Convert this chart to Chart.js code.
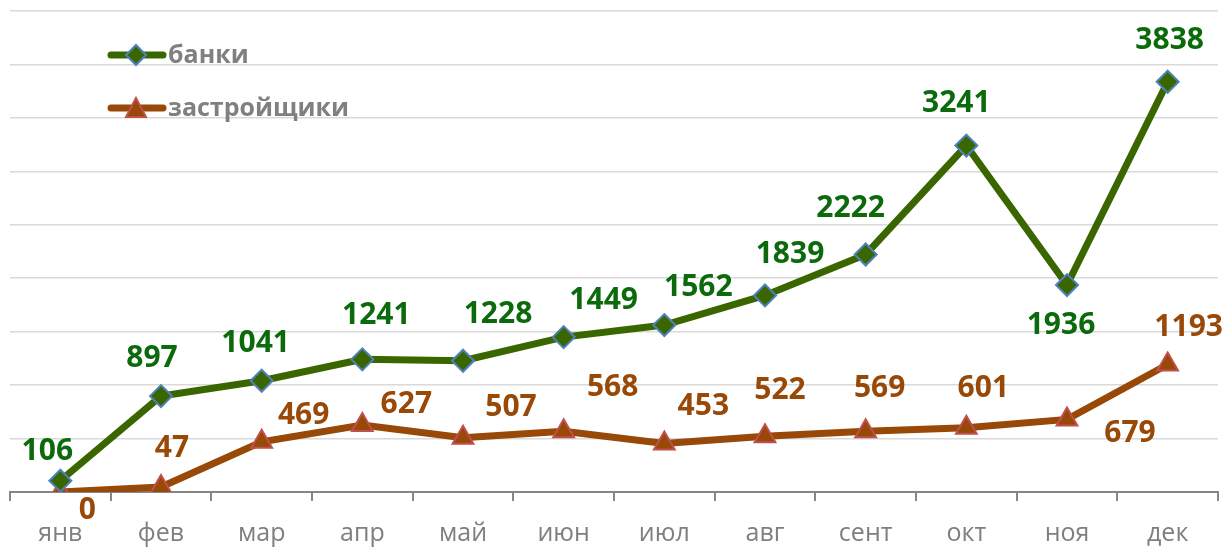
<!DOCTYPE html>
<html>
<head>
<meta charset="utf-8">
<script src="https://cdn.jsdelivr.net/npm/chart.js@4"></script>
<style>
  html, body { margin: 0; padding: 0; background: #fff; }
  #wrap { width: 1226px; height: 547px; }
</style>
</head>
<body>
<div id="wrap"><canvas id="chart"></canvas></div>
<script>
const months = ['янв', 'фев', 'мар', 'апр', 'май', 'июн', 'июл', 'авг', 'сент', 'окт', 'ноя', 'дек'];
const banks = [106, 897, 1041, 1241, 1228, 1449, 1562, 1839, 2222, 3241, 1936, 3838];
const developers = [0, 47, 469, 627, 507, 568, 453, 522, 569, 601, 679, 1193];
const seriesNames = ['банки', 'застройщики'];
const yTicks = [0, 500, 1000, 1500, 2000, 2500, 3000, 3500, 4000, 4500];

// label offsets (px from the point), hand-placed like in the original
const bankLabelOffsets = [[-13, -29], [-9, -38], [-6, -37], [14, -44], [35, -46], [40, -37],
  [34, -38], [25, -41], [-15, -46], [-10, -42], [-6, 40], [2, -41]];
const devLabelOffsets = [[27, 18], [11, -39], [42, -26], [44, -21], [48, -30], [49, -44],
  [39, -37], [15, -46], [14, -43], [17, -39], [63, 14], [21, -37]];

const GREEN = '#3a6600';
const BROWN = '#984807';
const FONT = '"Open Sans", sans-serif';

const labelPlugin = {
  id: 'pointLabels',
  afterDatasetsDraw(chart) {
    const ctx = chart.ctx;
    const sets = [
      { meta: chart.getDatasetMeta(0), vals: banks, offs: bankLabelOffsets, color: '#0b6a0b' },
      { meta: chart.getDatasetMeta(1), vals: developers, offs: devLabelOffsets, color: '#984807' }
    ];
    ctx.save();
    ctx.font = 'bold 30px ' + FONT;
    ctx.textAlign = 'center';
    ctx.textBaseline = 'middle';
    sets.forEach(s => {
      ctx.fillStyle = s.color;
      s.meta.data.forEach((pt, i) => {
        ctx.fillText(String(s.vals[i]), pt.x + s.offs[i][0], pt.y + s.offs[i][1]);
      });
    });
    ctx.restore();
  }
};

const legendPlugin = {
  id: 'insideLegend',
  afterDraw(chart) {
    const ctx = chart.ctx;
    const items = [
      { name: seriesNames[0], color: GREEN, y: 55, marker: 'diamond' },
      { name: seriesNames[1], color: BROWN, y: 108, marker: 'triangle' }
    ];
    ctx.save();
    items.forEach(it => {
      ctx.strokeStyle = it.color;
      ctx.lineWidth = 7;
      ctx.lineCap = 'round';
      ctx.beginPath();
      ctx.moveTo(111, it.y);
      ctx.lineTo(163, it.y);
      ctx.stroke();
      ctx.lineWidth = 2;
      ctx.fillStyle = it.color;
      ctx.beginPath();
      if (it.marker === 'diamond') {
        ctx.strokeStyle = '#4f81bd';
        ctx.moveTo(136, it.y - 10);
        ctx.lineTo(146, it.y);
        ctx.lineTo(136, it.y + 10);
        ctx.lineTo(126, it.y);
      } else {
        ctx.strokeStyle = '#c0504d';
        ctx.moveTo(136, it.y - 10);
        ctx.lineTo(146, it.y + 9);
        ctx.lineTo(126, it.y + 9);
      }
      ctx.closePath();
      ctx.fill();
      ctx.stroke();
      ctx.fillStyle = '#808080';
      ctx.font = 'bold 25px ' + FONT;
      ctx.textBaseline = 'middle';
      ctx.textAlign = 'left';
      ctx.fillText(it.name, 168, it.y + 1);
    });
    ctx.restore();
  }
};

new Chart(document.getElementById('chart'), {
  type: 'line',
  data: {
    labels: months,
    datasets: [
      {
        label: seriesNames[0],
        data: banks,
        borderColor: GREEN,
        borderWidth: 7,
        backgroundColor: GREEN,
        pointStyle: 'rectRot',
        pointRadius: 11,
        pointBackgroundColor: GREEN,
        pointBorderColor: '#4f81bd',
        pointBorderWidth: 2,
        tension: 0
      },
      {
        label: seriesNames[1],
        data: developers,
        borderColor: BROWN,
        borderWidth: 7,
        backgroundColor: BROWN,
        pointStyle: 'triangle',
        pointRadius: 12,
        pointBackgroundColor: BROWN,
        pointBorderColor: '#c0504d',
        pointBorderWidth: 2,
        tension: 0
      }
    ]
  },
  options: {
    responsive: true,
    maintainAspectRatio: false,
    animation: false,
    layout: { autoPadding: false, padding: { left: 10, right: 8, top: 11, bottom: 0 } },
    plugins: {
      legend: { display: false },
      tooltip: { enabled: false }
    },
    scales: {
      x: {
        offset: true,
        grid: {
          offset: true,
          drawOnChartArea: false,
          drawTicks: true,
          tickLength: 9,
          color: '#868686',
          lineWidth: 2
        },
        border: { display: true, color: '#868686', width: 2 },
        ticks: {
          color: '#7f7f7f',
          font: { family: FONT, size: 25 },
          padding: 18,
          maxRotation: 0,
          autoSkip: false
        },
        afterFit(scale) { scale.height = 55; }
      },
      y: {
        min: yTicks[0],
        max: yTicks[yTicks.length - 1],
        afterBuildTicks(scale) { scale.ticks = yTicks.map(v => ({ value: v })); },
        ticks: { display: false },
        grid: { color: '#d9d9d9', lineWidth: 1.5, drawTicks: false },
        border: { display: false },
        afterFit(scale) { scale.width = 0; }
      }
    }
  },
  plugins: [labelPlugin, legendPlugin]
});
</script>
</body>
</html>
